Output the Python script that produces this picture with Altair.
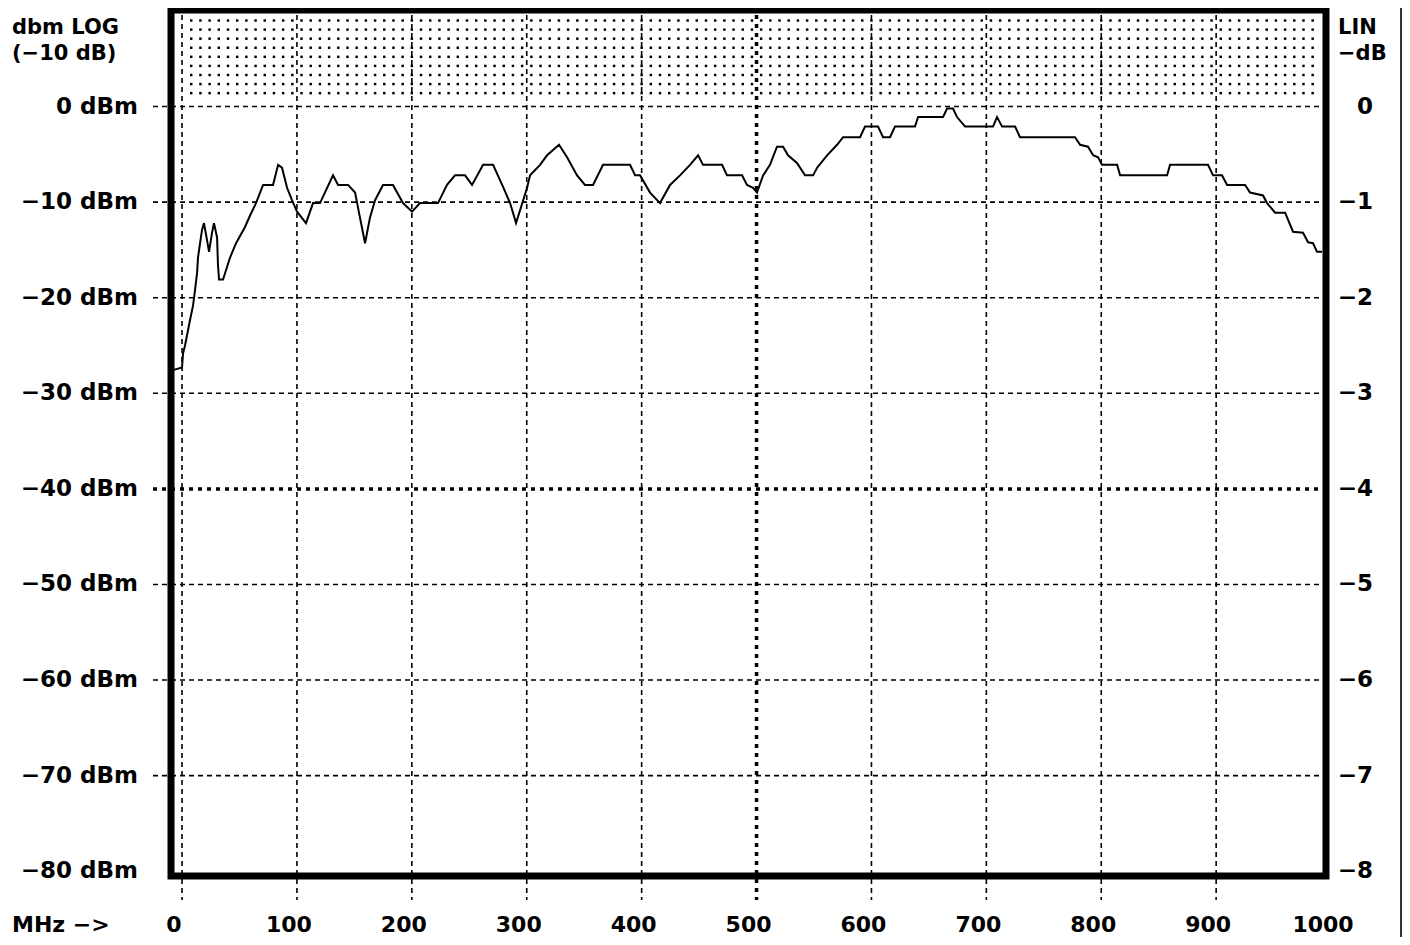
import altair as alt
import pandas as pd
import numpy as np

# ---- trace (MHz, dBm) ----
freq = [-8.7, 0.0, 0.9, 2.6, 4.4, 7.0, 9.6, 11.3, 13.1, 13.9, 15.7, 17.4, 19.1, 21.8, 23.5,
        26.1, 27.8, 30.5, 31.3, 32.2, 35.7, 41.8, 47.0, 54.8, 59.2, 64.4, 70.5, 79.2, 83.6,
        87.0, 91.4, 95.7, 100.1, 107.9, 114.0, 120.1, 131.4, 135.8, 144.5, 150.6, 154.0,
        159.3, 163.6, 168.0, 174.9, 183.6, 192.3, 200.2, 207.1, 222.8, 230.6, 237.6, 246.3,
        252.4, 262.0, 270.7, 279.4, 285.5, 290.7, 300.3, 302.9, 311.6, 317.7, 328.1, 335.1,
        343.8, 350.7, 357.7, 366.4, 389.9, 394.3, 398.6, 407.3, 416.0, 424.7, 433.4, 442.1,
        449.1, 453.4, 470.0, 474.3, 487.4, 491.7, 497.0, 500.4, 505.7, 511.7, 517.8, 523.1,
        527.4, 535.2, 542.2, 549.2, 552.7, 561.4, 570.1, 575.3, 590.1, 594.4, 605.7, 610.1,
        616.2, 620.5, 637.9, 640.6, 662.3, 665.8, 671.0, 674.5, 681.5, 705.8, 709.3, 713.7,
        725.0, 729.3, 777.2, 781.6, 788.5, 792.9, 797.2, 800.7, 813.8, 816.4, 857.3, 859.9,
        892.9, 897.3, 905.1, 909.5, 925.2, 929.5, 940.8, 944.3, 951.3, 960.0, 966.9, 975.6,
        980.0, 984.3, 987.8, 992.2]
level = [-27.6, -27.3, -25.8, -25.0, -23.9, -22.3, -20.8, -19.2, -17.4, -15.8, -14.3, -12.9,
         -12.2, -14.0, -15.2, -13.2, -12.2, -13.7, -16.6, -18.1, -18.1, -15.8, -14.3, -12.6,
         -11.4, -10.1, -8.2, -8.2, -6.1, -6.4, -8.5, -9.8, -11.0, -12.2, -10.1, -10.1, -7.2,
         -8.2, -8.2, -9.0, -11.1, -14.3, -11.6, -9.8, -8.2, -8.2, -10.1, -11.0, -10.1, -10.1,
         -8.2, -7.2, -7.2, -8.2, -6.1, -6.1, -8.4, -10.1, -12.2, -8.5, -7.2, -6.1, -5.1, -4.0,
         -5.3, -7.2, -8.2, -8.2, -6.1, -6.1, -7.2, -7.2, -9.0, -10.1, -8.2, -7.2, -6.1, -5.1,
         -6.1, -6.1, -7.2, -7.2, -8.2, -8.5, -9.0, -7.2, -6.1, -4.2, -4.2, -5.1, -5.9, -7.2,
         -7.2, -6.4, -5.1, -4.0, -3.2, -3.2, -2.1, -2.1, -3.2, -3.2, -2.1, -2.1, -1.1, -1.1,
         -0.2, -0.2, -1.1, -2.1, -2.1, -1.1, -2.1, -2.1, -3.2, -3.2, -4.0, -4.2, -5.1, -5.3,
         -6.1, -6.1, -7.2, -7.2, -6.1, -6.1, -7.2, -7.2, -8.2, -8.2, -9.0, -9.3, -10.1, -11.1,
         -11.1, -13.1, -13.2, -14.2, -14.3, -15.2, -15.2]

# ---- axis texts ----
x_grid = [0, 100, 200, 300, 400, 600, 700, 800, 900]
x_grid_bold = [500]
x_label_pos = [0, 100, 200, 300, 400, 500, 600, 700, 800, 900, 1000]
x_label_txt = ["0", "100", "200", "300", "400", "500", "600", "700", "800", "900", "1000"]
y_grid = [0, -10, -20, -30, -50, -60, -70]
y_grid_bold = [-40]
y_label_pos = [0, -10, -20, -30, -40, -50, -60, -70, -80]
left_txt = ["0 dBm", "−10 dBm", "−20 dBm", "−30 dBm", "−40 dBm", "−50 dBm", "−60 dBm",
            "−70 dBm", "−80 dBm"]
right_txt = ["0", "−1", "−2", "−3", "−4", "−5", "−6", "−7", "−8"]

FONT = "DejaVu Sans"
FS = 23

xs = alt.Scale(domain=[-9.6, 995.6], nice=False, zero=False)
ys = alt.Scale(domain=[-80.5, 10.1], nice=False, zero=False)

trace = pd.DataFrame({"f": freq, "p": level})

# dotted texture of the over-range band (0 .. +10 dBm)
gx, gy = np.meshgrid(np.arange(8.0, 990.0, 8.0), np.arange(1.4, 9.5, 0.95))
dots = pd.DataFrame({"f": gx.ravel(), "p": gy.ravel()})

dot_layer = alt.Chart(dots).mark_square(size=6, color="black", opacity=1).encode(
    x=alt.X("f:Q", scale=xs, axis=None), y=alt.Y("p:Q", scale=ys, axis=None))

hgrid = alt.Chart(pd.DataFrame({"v": y_grid})).mark_rule(
    color="black", strokeWidth=1.6, strokeDash=[5, 4]).encode(
    y=alt.Y("v:Q", scale=ys, axis=None), x=alt.value(-18), x2=alt.value(1149))
hgrid_b = alt.Chart(pd.DataFrame({"v": y_grid_bold})).mark_rule(
    color="black", strokeWidth=3.5, strokeDash=[4, 5]).encode(
    y=alt.Y("v:Q", scale=ys, axis=None), x=alt.value(-18), x2=alt.value(1149))
vgrid = alt.Chart(pd.DataFrame({"v": x_grid})).mark_rule(
    color="black", strokeWidth=1.6, strokeDash=[5, 4]).encode(
    x=alt.X("v:Q", scale=xs, axis=None), y=alt.value(5), y2=alt.value(890))
vgrid_b = alt.Chart(pd.DataFrame({"v": x_grid_bold})).mark_rule(
    color="black", strokeWidth=3.5, strokeDash=[4, 5]).encode(
    x=alt.X("v:Q", scale=xs, axis=None), y=alt.value(5), y2=alt.value(890))

line = alt.Chart(trace).mark_line(color="black", strokeWidth=2).encode(
    x=alt.X("f:Q", scale=xs, axis=None), y=alt.Y("p:Q", scale=ys, axis=None),
    order="f:Q")

left_lab = alt.Chart(pd.DataFrame({"v": y_label_pos, "t": left_txt})).mark_text(
    font=FONT, fontSize=FS, fontWeight="bold", align="right", baseline="middle",
    color="black").encode(
    y=alt.Y("v:Q", scale=ys, axis=None), x=alt.value(-33), text="t:N")
right_lab = alt.Chart(pd.DataFrame({"v": y_label_pos, "t": right_txt})).mark_text(
    font=FONT, fontSize=FS, fontWeight="bold", align="right", baseline="middle",
    color="black").encode(
    y=alt.Y("v:Q", scale=ys, axis=None), x=alt.value(1202), text="t:N")
x_lab = alt.Chart(pd.DataFrame({"v": x_label_pos, "t": x_label_txt})).mark_text(
    font=FONT, fontSize=22, fontWeight="bold", align="center", baseline="bottom",
    color="black", dx=-8).encode(
    x=alt.X("v:Q", scale=xs, axis=None), y=alt.value(927), text="t:N")


def label(txt, x, y, align="left", baseline="middle", fs=21):
    return alt.Chart(pd.DataFrame({"t": [txt]})).mark_text(
        font=FONT, fontSize=fs, fontWeight="bold", align=align, baseline=baseline,
        color="black").encode(x=alt.value(x), y=alt.value(y), text="t:N")


headers = [
    label("dbm LOG", -159, 18),
    label("(−10 dB)", -159, 44),
    label("LIN", 1167, 18),
    label("−dB", 1167, 44),
    label("MHz −>", -159, 927, baseline="bottom", fs=22),
]

edge = alt.Chart(pd.DataFrame({"a": [0]})).mark_rule(color="#333333", strokeWidth=2).encode(
    x=alt.value(1230), y=alt.value(-10), y2=alt.value(935))

chart = alt.layer(dot_layer, hgrid, hgrid_b, vgrid, vgrid_b, line, left_lab, right_lab,
                  x_lab, *headers, edge).properties(
    width=1155, height=866,
    autosize=alt.AutoSizeParams(type="none"),
    padding={"left": 163, "top": 2, "right": 76, "bottom": 61},
    background="white",
).configure_view(stroke="black", strokeWidth=7)

chart.save("out.html", embed_options={"renderer": "svg", "actions": False})
